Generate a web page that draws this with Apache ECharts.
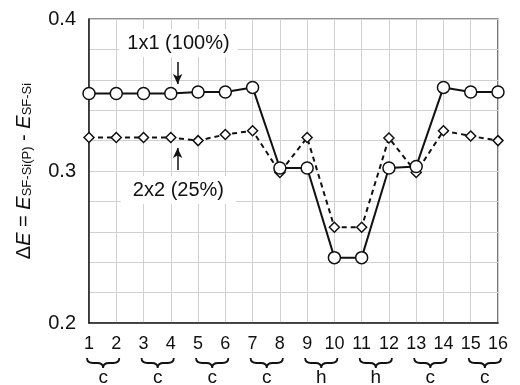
<!DOCTYPE html>
<html><head><meta charset="utf-8">
<script src="https://cdn.jsdelivr.net/npm/echarts@6/dist/echarts.min.js"></script>
<style>html,body{margin:0;padding:0;background:#fff}#c{width:520px;height:385px}</style>
</head><body><div id="c"></div>
<script>
const positions = [1,2,3,4,5,6,7,8,9,10,11,12,13,14,15,16];
const s1x1 = [0.351,0.351,0.351,0.351,0.352,0.352,0.355,0.302,0.302,0.243,0.243,0.302,0.303,0.355,0.352,0.352];
const s2x2 = [0.322,0.322,0.322,0.322,0.320,0.324,0.3265,0.299,0.322,0.263,0.263,0.3217,0.299,0.3265,0.323,0.320];
const groupStart = [1,3,5,7,9,11,13,15];
const groupEnd = [2,4,6,8,10,12,14,16];
const groupLabels = ['c','c','c','c','h','h','c','c'];
const yTickLabels = ['0.2','0.3','0.4'];
const label1 = '1x1 (100%)';
const label2 = '2x2 (25%)';

const FONT = '"Liberation Sans", Arial, Helvetica, sans-serif';
const chart = echarts.init(document.getElementById('c'), null, {renderer:'canvas'});
const pairs = a => positions.map((x,i)=>[x,a[i]]);

function braceItem(params, api){
  const a = api.coord([api.value(0), api.value(2)]);
  const b = api.coord([api.value(1), api.value(2)]);
  const x1 = a[0]-2, x2 = b[0]+3, xm = (x1+x2)/2;
  const y0 = a[1]+35, h = 10, r = 6;
  const ym = y0 + h/2;
  const d = `M${x1},${y0} Q${x1},${ym} ${x1+r},${ym} L${xm-r},${ym} Q${xm},${ym} ${xm},${y0+h} Q${xm},${ym} ${xm+r},${ym} L${x2-r},${ym} Q${x2},${ym} ${x2},${y0}`;
  return {
    type:'group',
    children:[
      {type:'path', shape:{pathData:d}, style:{fill:'none', stroke:'#111', lineWidth:1.8}},
      {type:'text', style:{text:groupLabels[params.dataIndex], x:xm, y:y0+h+10, align:'center', verticalAlign:'middle', font:'19px '+FONT, fill:'#111'}}
    ]
  };
}

const option = {
  animation:false,
  backgroundColor:'#fff',
  grid:{left:89, right:22, top:19, bottom:62, show:true, borderColor:'#222', borderWidth:1.2, backgroundColor:'transparent'},
  xAxis:{
    type:'value', min:1, max:16, interval:1,
    axisLine:{show:true, lineStyle:{color:'#222', width:1.5}},
    axisTick:{show:false},
    splitLine:{show:true, lineStyle:{color:'#d0d0d0', width:1}},
    axisLabel:{fontFamily:FONT, fontSize:18, color:'#111', margin:12}
  },
  yAxis:{
    type:'value', min:0.2, max:0.4, interval:0.02,
    axisLine:{show:true, lineStyle:{color:'#222', width:1.5}},
    axisTick:{show:false},
    splitLine:{show:true, lineStyle:{color:'#d0d0d0', width:1}},
    axisLabel:{fontFamily:FONT, fontSize:20, color:'#111', margin:13,
      formatter:v=>{const k=Math.round(v*10)/10; if(Math.abs(v-k)<1e-6){const s=k.toFixed(1); return yTickLabels.includes(s)?s:'';} return '';}},
    name:'{n|Δ}{i|E}{n| = }{i|E}{s|SF-Si(P)}{n| - }{i|E}{s|SF-Si}',
    nameLocation:'middle', nameGap:55,
    nameTextStyle:{
      rich:{
        n:{fontFamily:FONT, fontSize:20, color:'#111', verticalAlign:'bottom', lineHeight:24},
        i:{fontFamily:FONT, fontSize:20, fontStyle:'italic', color:'#111', verticalAlign:'bottom', lineHeight:24},
        s:{fontFamily:FONT, fontSize:13, color:'#111', verticalAlign:'bottom', lineHeight:20}
      }
    }
  },
  series:[
    {
      name:'2x2', type:'line', data:pairs(s2x2), z:3,
      symbol:'diamond', symbolSize:10, showAllSymbol:true,
      lineStyle:{color:'#111', width:2, type:[5,4]},
      itemStyle:{color:'#fff', borderColor:'#111', borderWidth:1.5},
      markPoint:{
        symbol:'rect', symbolSize:1, itemStyle:{color:'transparent'},
        label:{show:true, position:'inside', formatter:p=>p.name, fontFamily:FONT, fontSize:20, color:'#111', backgroundColor:'#fff', padding:[4,12]},
        data:[{name:label2, coord:[4.28,0.2875]}]
      },
      markLine:{
        silent:true, symbol:['none','arrow'], symbolSize:[7,10],
        lineStyle:{color:'#111', width:1.5, type:'solid'}, label:{show:false},
        data:[[{coord:[4.25,0.3007]},{coord:[4.25,0.3151]}]]
      }
    },
    {
      name:'1x1', type:'line', data:pairs(s1x1), z:4,
      symbol:'circle', symbolSize:12, showAllSymbol:true,
      lineStyle:{color:'#111', width:2},
      itemStyle:{color:'#fff', borderColor:'#111', borderWidth:1.5},
      markPoint:{
        symbol:'rect', symbolSize:1, itemStyle:{color:'transparent'},
        label:{show:true, position:'inside', formatter:p=>p.name, fontFamily:FONT, fontSize:20, color:'#111', backgroundColor:'#fff', padding:[4,8]},
        data:[{name:label1, coord:[4.28,0.3842]}]
      },
      markLine:{
        silent:true, symbol:['none','arrow'], symbolSize:[7,10],
        lineStyle:{color:'#111', width:1.5, type:'solid'}, label:{show:false},
        data:[[{coord:[4.25,0.3717]},{coord:[4.25,0.3572]}]]
      }
    },
    {
      type:'custom', silent:true, clip:false,
      data:groupStart.map((s,i)=>[s,groupEnd[i],0.2]),
      encode:{x:[0,1], y:2},
      renderItem:braceItem
    }
  ]
};
chart.setOption(option);
</script>
</body></html>
